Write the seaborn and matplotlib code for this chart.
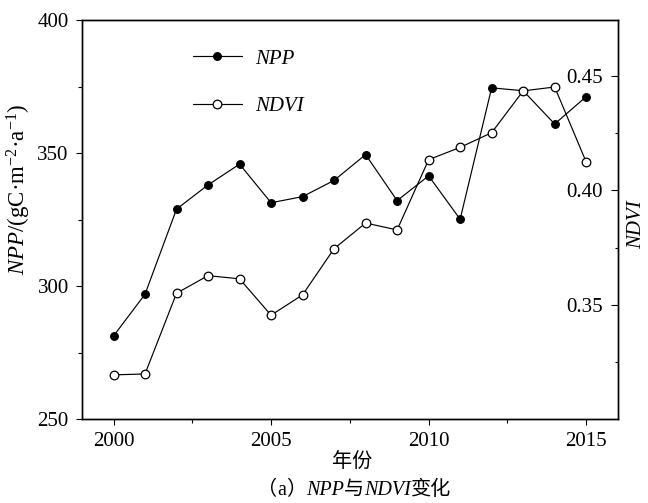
import matplotlib
matplotlib.use('Agg')
import matplotlib.pyplot as plt
import seaborn as sns
import pandas as pd
from matplotlib.ticker import FixedLocator
from matplotlib.offsetbox import TextArea, HPacker, AnchoredOffsetbox

years = list(range(2000, 2016))
npp = [281.2, 296.9, 328.9, 338.0, 345.8, 331.3, 333.6, 339.7,
       349.4, 332.1, 341.4, 325.1, 374.5, 373.4, 360.9, 371.2]
ndvi = [0.3193, 0.3197, 0.3550, 0.3627, 0.3613, 0.3454, 0.3543, 0.3745,
        0.3857, 0.3827, 0.4134, 0.4188, 0.4252, 0.4435, 0.4452, 0.4124]
year_ticks = [2000, 2005, 2010, 2015]
year_minor = [2002.5, 2007.5, 2012.5]
npp_ticks = [250, 300, 350, 400]
npp_minor = [275, 325, 375]
ndvi_ticks = [0.35, 0.40, 0.45]
ndvi_tick_labels = ['0.35', '0.40', '0.45']
ndvi_minor = [0.325, 0.375, 0.425]

sns.set_style('ticks')
FAM = ['Liberation Serif', 'Noto Sans CJK SC']
plt.rcParams['font.family'] = FAM
plt.rcParams['mathtext.fontset'] = 'custom'
plt.rcParams['mathtext.rm'] = 'Liberation Serif'
plt.rcParams['mathtext.it'] = 'Liberation Serif:italic'
for k in ['text.color', 'axes.labelcolor', 'xtick.color', 'ytick.color', 'axes.edgecolor']:
    plt.rcParams[k] = 'black'

df = pd.DataFrame({'year': years, 'npp': npp, 'ndvi': ndvi})

fig = plt.figure(figsize=(6.48, 5.03), dpi=100)
ax = fig.add_axes([82 / 648, 1 - 419 / 503, (617.7 - 82) / 648, 399 / 503])
ax.set_facecolor('white')
sns.lineplot(data=df, x='year', y='npp', ax=ax, color='black', marker='o',
             markersize=5.6, markerfacecolor='black', markeredgecolor='black',
             markeredgewidth=0.8, linewidth=0.85, legend=False)
ax2 = ax.twinx()
sns.lineplot(data=df, x='year', y='ndvi', ax=ax2, color='black', marker='o',
             markersize=6.2, markerfacecolor='white', markeredgecolor='black',
             markeredgewidth=0.9, linewidth=0.85, legend=False)

ax.set_xlim(1999, 2016)
ax.set_ylim(250, 400)
ax2.set_ylim(0.30, 0.4745)

for a in (ax, ax2):
    for s in a.spines.values():
        s.set_linewidth(1.0)
        s.set_color('black')

ax.set_xticks(year_ticks)
ax.xaxis.set_minor_locator(FixedLocator(year_minor))
ax.set_yticks(npp_ticks)
ax.yaxis.set_minor_locator(FixedLocator(npp_minor))
ax.tick_params(which='major', direction='out', length=4.5, width=0.8,
               labelsize=15, top=False, right=False)
ax.tick_params(axis='x', which='major', pad=5)
ax.tick_params(axis='y', which='major', pad=5)
ax.tick_params(which='minor', direction='out', length=3, width=0.8,
               top=False, right=False)

ax2.set_yticks(ndvi_ticks)
ax2.yaxis.set_minor_locator(FixedLocator(ndvi_minor))
ax2.tick_params(axis='y', which='major', direction='in', length=4.8,
                width=0.8, labelsize=15, pad=-10.6)
ax2.tick_params(axis='y', which='minor', direction='in', length=2, width=0.8)
ax2.set_yticklabels(ndvi_tick_labels, ha='right')

ax.set_xlabel('年份', fontsize=14.5, family=FAM)
ax.xaxis.set_label_coords((352 - 82) / 535.7, -(462 - 419) / 399)
ax.xaxis.label.set_verticalalignment('center')
ax.set_ylabel(r'$\it{NPP}$/(gC·m$^{-2}$·a$^{-1}$)', fontsize=16.5)
ax.yaxis.set_label_coords((18.5 - 82) / 535.7, 1 - (189 - 20) / 399)
ax.yaxis.label.set_verticalalignment('center')
ax2.set_ylabel('NDVI', fontsize=15, style='italic')
ax2.yaxis.set_label_coords((637 - 82) / 535.7, 1 - (225 - 20) / 399)
ax2.yaxis.label.set_verticalalignment('center')

handles = [ax.lines[0], ax2.lines[0]]
ax.legend(handles, ['NPP', 'NDVI'], loc='upper left',
          bbox_to_anchor=((193 - 82) / 535.7, 1 - (49 - 20) / 399),
          frameon=False, borderpad=0, borderaxespad=0, handlelength=2.35,
          handletextpad=0.62, labelspacing=1.35,
          prop=dict(family='Liberation Serif', style='italic', size=15))

parts = [('（', 'normal'), ('a', 'normal'), ('）', 'normal'), ('NPP', 'italic'),
         ('与', 'normal'), ('NDVI', 'italic'), ('变化', 'normal')]
tas = [TextArea(s, textprops=dict(family=FAM, style=st, size=14.5, color='black'))
       for s, st in parts]
box = HPacker(children=tas, align='baseline', pad=0, sep=0)
anch = AnchoredOffsetbox(loc='center', child=box, pad=0, frameon=False,
                         bbox_to_anchor=(354 / 648, 1 - 490 / 503),
                         bbox_transform=fig.transFigure, borderpad=0)
fig.add_artist(anch)

fig.savefig('out.png', dpi=100, facecolor='white')
